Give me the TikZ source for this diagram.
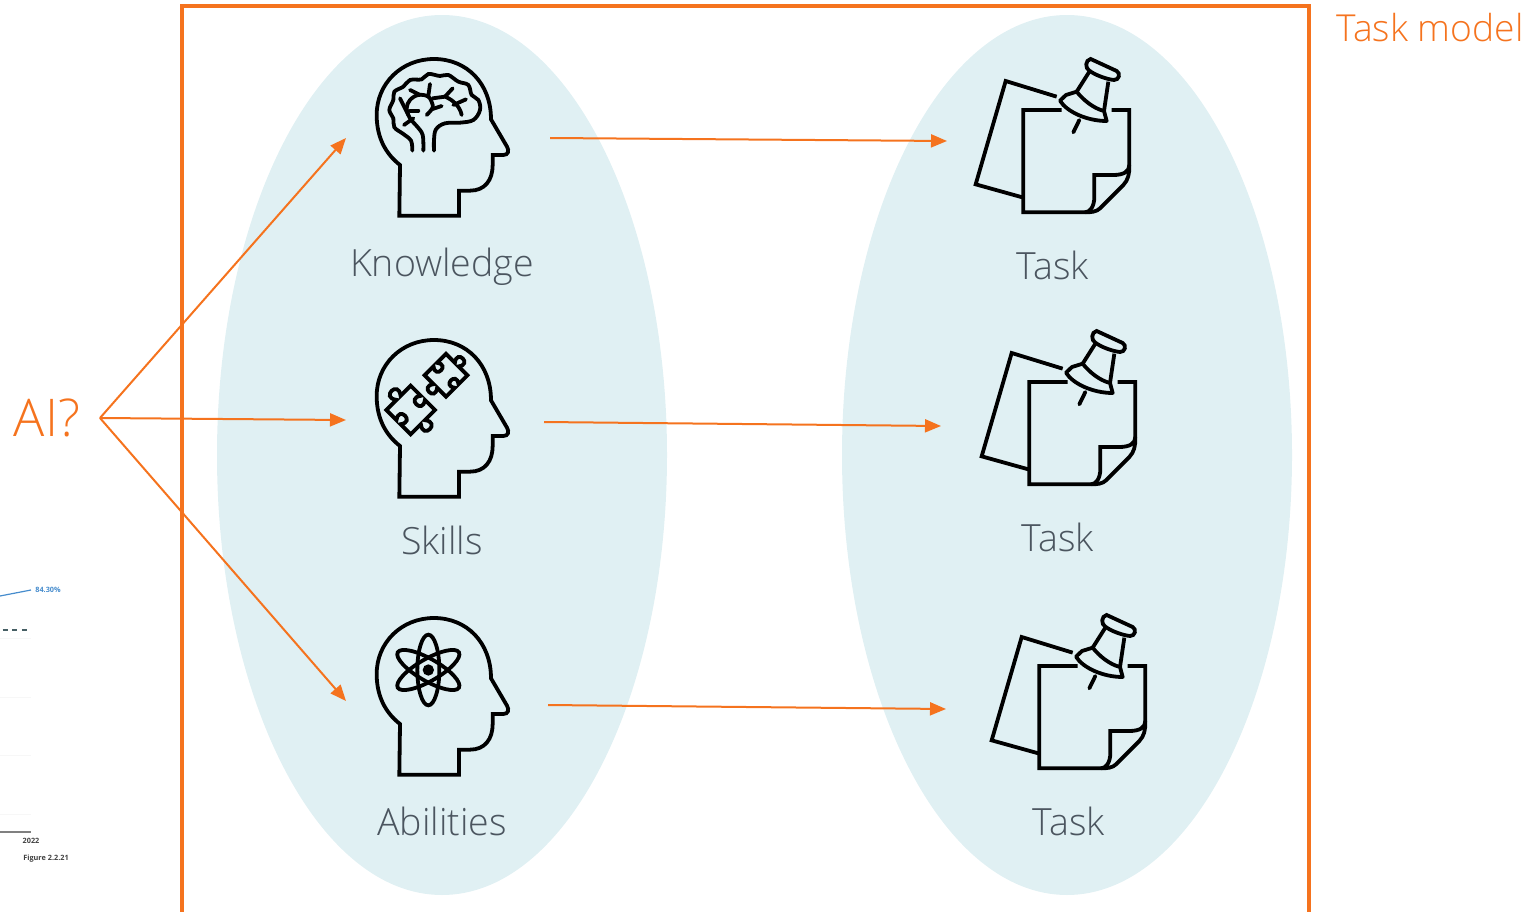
\documentclass[tikz,border=0pt]{standalone}
\usepackage{fontspec}
\setmainfont{Open Sans Light}
\newfontfamily\boldfont{Open Sans}
\usetikzlibrary{arrows.meta}
\definecolor{taskorange}{RGB}{245,115,30}
\definecolor{spacefill}{RGB}{224,240,243}
\definecolor{labelgray}{RGB}{75,85,95}
\definecolor{chartblue}{RGB}{70,140,205}
\definecolor{chartdash}{RGB}{70,95,100}
\tikzset{
    icon/.style={line width=3.8pt, line join=miter},
    arrow/.style={taskorange, line width=2pt, -{Triangle[length=16pt, width=13pt]}},
    label/.style={text=labelgray, font=\fontsize{37.5}{40}\selectfont},
    chartlabel/.style={font=\boldfont\bfseries\fontsize{7.3}{8}\selectfont},
    headshape/.pic={
        \draw[icon] (118,527) -- (297,527) -- (297,452) -- (330,452)
            .. controls (375,452) and (398,420) .. (398,375) -- (398,345) -- (430,345)
            .. controls (445,345) and (448,332) .. (441,320) -- (393,238)
            .. controls (393,130) and (320,57) .. (222,57)
            .. controls (125,57) and (50,130) .. (50,225)
            .. controls (50,290) and (75,340) .. (120,375) -- cycle;
    },
    brain/.pic={
        \draw[icon, line cap=round] plot[smooth, tension=.6] coordinates {(157,332) (153,302)
            (130,282) (103,262) (100,235) (88,210) (100,180) (103,155) (130,140) (150,120)
            (185,118) (205,102) (240,108) (265,105) (295,125) (325,135) (335,165) (355,180)
            (360,210) (340,240) (300,248) (255,250) (228,268) (222,300) (222,332)};
        \draw[icon, line cap=round] plot[smooth, tension=.6] coordinates {(190,332) (188,285)
            (170,258) (150,235) (140,205) (150,180) (175,165) (205,170) (218,195) (215,208) (200,225)};
        \draw[icon, line cap=round] (120,175) -- (135,205) -- (145,225);
        \draw[icon, line cap=round] (132,255) -- (160,235);
        \draw[icon, line cap=round] (150,150) -- (180,165);
        \draw[icon, line cap=round] (210,132) -- (205,168);
        \draw[icon, line cap=round] (175,212) -- (150,212);
        \draw[icon, line cap=round] (215,208) -- (245,198);
        \draw[icon, line cap=round] (218,175) -- (255,170) .. controls (280,180) and (300,200) .. (305,225);
        \draw[icon, line cap=round] (255,170) -- (278,145);
        \draw[icon, line cap=round] (280,195) -- (318,178);
    },
    puzzlepiece/.pic={
        \draw[icon] (-42,-42) -- (-7,-42) .. controls (-32,-74) and (32,-74) .. (7,-42)
            -- (42,-42) -- (42,-7) .. controls (12,-30) and (12,30) .. (42,7)
            -- (42,42) -- (7,42) .. controls (32,74) and (-32,74) .. (-7,42)
            -- (-42,42) -- (-42,7) .. controls (-12,30) and (-12,-30) .. (-42,-7) -- cycle;
    },
    atom/.pic={
        \foreach \a in {90, 30, -30}
            \draw[icon, rotate around={\a:(205,180)}] (205,180) ellipse [x radius=106, y radius=33];
        \fill (205,180) circle (17); % Nucleus
    },
    note/.pic={
        \draw[icon] (187,472) -- (47,433) -- (137,123) -- (290,170); % Back sheet
        \draw[icon] (305,210) -- (190,210) -- (190,517) -- (375,517)
            .. controls (395,517) and (410,515) .. (420,505) -- (490,435)
            .. controls (505,420) and (508,400) .. (508,380) -- (508,210) -- (455,210);
        \draw[icon] (375,517) .. controls (390,517) and (403,500) .. (403,470) -- (403,405)
            -- (460,405) .. controls (490,405) and (508,395) .. (508,375); % Fold
        \draw[icon] (392,57) -- (470,93) .. controls (482,100) and (478,120) .. (462,120)
            .. controls (440,118) and (405,105) .. (388,92) .. controls (375,85) and (375,60) .. (392,57) -- cycle;
        \draw[icon] (388,95) -- (350,155);
        \draw[icon] (445,125) -- (432,213);
        \draw[icon, line join=round] (350,155) -- (318,165) -- (300,182)
            .. controls (320,215) and (380,243) .. (440,243) -- (432,213)
            .. controls (400,205) and (370,180) .. (350,155) -- cycle;
        \draw[icon, line cap=round] (358,240) -- (340,277);
    },
}
\begin{document}
\begin{tikzpicture}[x=1pt, y=-1pt]
    \useasboundingbox (0,0) rectangle (1530,912);

    \fill[spacefill] (442,455) ellipse [x radius=225, y radius=440];
    \fill[spacefill] (1067,455) ellipse [x radius=225, y radius=440];
    \draw[taskorange, line width=4pt] (182,912) -- (182,6) -- (1309,6) -- (1309,912); % Open at the bottom

    % Chart left over at the edge
    \foreach \y in {638, 697, 755, 814}
        \draw[black!3, line width=.6pt] (0,\y) -- (31,\y);
    \draw[chartblue, line width=1.2pt] (0,596) -- (31,590);
    \draw[chartdash, line width=1.2pt, dash pattern=on 5pt off 4.7pt] (2.5,630) -- (29,630);
    \draw[black!50, line width=1.2pt] (0,832) -- (31,832);
    \node[text=chartblue, chartlabel] (share) at (48,590) {84.30\%};
    \node[text=black!75, chartlabel] (year) at (31,840.5) {2022};
    \node[text=black!75, chartlabel] (figure) at (46,859) {Figure 2.2.21};

    % Heads
    \pic[scale=1/3] at (360,40) {headshape};
    \pic[scale=1/3] at (360,40) {brain};
    \pic[scale=1/3] at (360,321) {headshape};
    \pic[scale=.41, rotate=45] at (410.7,410) {puzzlepiece};
    \pic[scale=.36, rotate=135] at (446,375.3) {puzzlepiece};
    \pic[scale=1/3] at (360,599) {headshape};
    \pic[scale=1/3] at (360,610) {atom};

    % Notes
    \foreach \dx/\dy in {0/0, 6/272, 16/556}
        \pic[scale=1/3] at (960+\dx,40+\dy) {note};

    \node[label] (knowledge) at (442,267) {Knowledge};
    \node[label] (skills) at (442,540) {Skills};
    \node[label] (abilities) at (442,821) {Abilities};
    \node[label] (taska) at (1053,265) {Task};
    \node[label] (taskb) at (1058,537) {Task};
    \node[label] (taskc) at (1069,821) {Task};
    \node[text=taskorange, font=\fontsize{37.2}{40}\selectfont] (model) at (1430,28) {Task model};
    \node[text=taskorange, font=\fontsize{52}{54}\selectfont] (ai) at (47,418) {AI?};

    % Arrow ends
    \coordinate (start) at (100,418);
    \coordinate (heada) at (346,138);
    \coordinate (headb) at (346,420);
    \coordinate (headc) at (346,701);
    \coordinate (outa) at (550,138);
    \coordinate (outb) at (544,422);
    \coordinate (outc) at (548,705);
    \coordinate (notea) at (947,141);
    \coordinate (noteb) at (941,426);
    \coordinate (notec) at (946,709);

    \draw[arrow] (start) -- (heada);
    \draw[arrow] (start) -- (headb);
    \draw[arrow] (start) -- (headc);
    \draw[arrow] (outa) -- (notea);
    \draw[arrow] (outb) -- (noteb);
    \draw[arrow] (outc) -- (notec);
\end{tikzpicture}
\end{document}
